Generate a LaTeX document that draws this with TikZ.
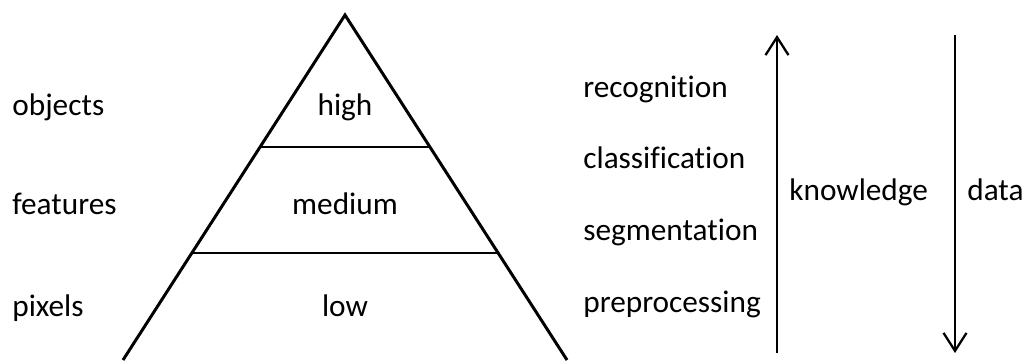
\documentclass[tikz,border=0pt]{standalone}
\usepackage{fontspec}
\setmainfont{Carlito}[Ligatures=NoCommon]
\usetikzlibrary{arrows.meta}
\tikzset{
  pyrside/.style  = {line width=1.7pt, line join=miter},
  tierline/.style = {line width=1.3pt},
  flowarr/.style  = {-{Straight Barb[length=3.6mm,width=4.6mm]}, line width=1.3pt},
  lbl/.style      = {font=\fontsize{17.8}{21}\selectfont, inner sep=0pt}
}

\begin{document}
\begin{tikzpicture}[x=0.02cm,y=-0.02cm]
  \useasboundingbox (0,0) rectangle (1027,360);
  % --- pyramid
  \coordinate (apex)  at (345,15);
  \coordinate (baseL) at (123,360);
  \coordinate (baseR) at (567,360);
  \coordinate (midL)  at (260,147);
  \coordinate (midR)  at (430,147);
  \coordinate (lowL)  at (192,253);
  \coordinate (lowR)  at (498,253);
  \draw[pyrside] (baseL) -- (apex) -- (baseR);
  \draw[tierline] (midL) -- (midR);
  \draw[tierline] (lowL) -- (lowR);
  \node[lbl,anchor=base] (high)   at (345,115) {high};
  \node[lbl,anchor=base] (medium) at (345,214) {medium};
  \node[lbl,anchor=base] (low)    at (345,316) {low};
  % --- levels on the left
  \node[lbl,anchor=base west] (objects)  at (12,115) {objects};
  \node[lbl,anchor=base west] (features) at (12,214) {features};
  \node[lbl,anchor=base west] (pixels)   at (12,316) {pixels};
  % --- tasks on the right
  \node[lbl,anchor=base west] (recog) at (583,97)  {recognition};
  \node[lbl,anchor=base west] (class) at (583,168) {classification};
  \node[lbl,anchor=base west] (segm)  at (583,240) {segmentation};
  \node[lbl,anchor=base west] (prep)  at (583,312) {preprocessing};
  % --- knowledge up, data down
  \coordinate (kbot) at (777,353);
  \coordinate (ktop) at (777,35);
  \coordinate (dtop) at (955,35);
  \coordinate (dbot) at (955,353);
  \draw[flowarr] (kbot) -- (ktop);
  \draw[flowarr] (dtop) -- (dbot);
  \node[lbl,anchor=base west] (know) at (789,200) {knowledge};
  \node[lbl,anchor=base west] (data) at (967,200) {data};
\end{tikzpicture}
\end{document}
